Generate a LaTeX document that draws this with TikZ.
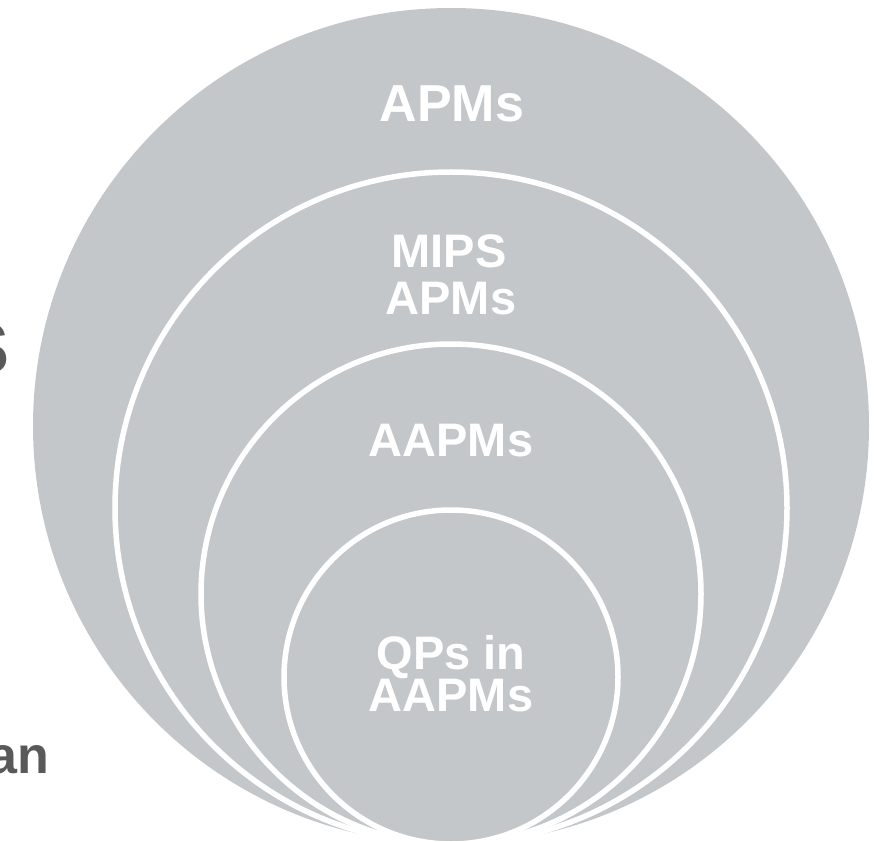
\documentclass[tikz,border=0pt]{standalone}
\usepackage{fontspec}
\setmainfont{Liberation Sans}
\definecolor{ringgray}{RGB}{196,199,202}
\definecolor{titlegray}{RGB}{89,89,89}
\begin{document}
\begin{tikzpicture}[x=1pt,y=-1pt,
  ring/.style={fill=ringgray,draw=white,line width=5.5pt},
  lbl/.style={text=white,font=\fontsize{47}{47}\selectfont\bfseries,anchor=base,inner sep=0pt},
  side/.style={text=titlegray,inner sep=0pt,anchor=base east}]
\useasboundingbox (0,0) rectangle (886,842);
% nested sets, all touching at the bottom
\fill[ringgray] (451,426) circle[radius=418];
\draw[ring] (451,508) circle[radius=336];
\draw[ring] (451,594) circle[radius=250];
\draw[ring] (451,677) circle[radius=167];
% set labels
\node[lbl,font=\fontsize{52}{52}\selectfont\bfseries] (apms) at (452,122) {APMs};
\node[lbl] (mips1) at (449,268) {MIPS};
\node[lbl] (mips2) at (451,315) {APMs};
\node[lbl] (aapms) at (451,456) {AAPMs};
\node[lbl] (qp1) at (451,669) {QPs in};
\node[lbl] (qp2) at (451,711) {AAPMs};
% text running in from the left edge
\node[side,font=\fontsize{72}{72}\selectfont\bfseries] (lefttitle) at (10,373) {S};
\node[side,font=\fontsize{52}{52}\selectfont\bfseries] (leftword) at (49,773) {an};
\end{tikzpicture}
\end{document}
